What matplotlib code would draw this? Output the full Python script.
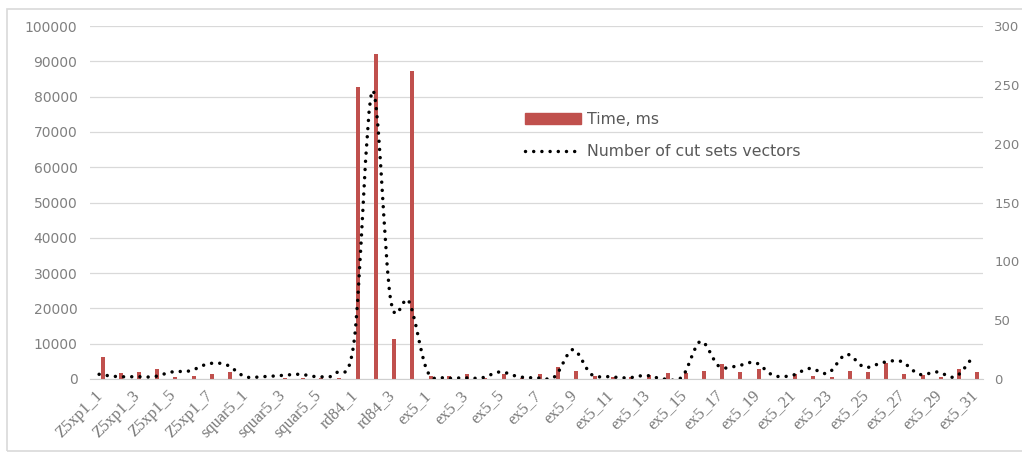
import matplotlib.pyplot as plt
import numpy as np
from matplotlib.path import Path
from matplotlib.patches import PathPatch, Rectangle
from matplotlib.lines import Line2D
from matplotlib.transforms import ScaledTranslation

names = (["Z5xp1_%d" % i for i in range(1, 9)]
         + ["squar5_%d" % i for i in range(1, 7)]
         + ["rd84_%d" % i for i in range(1, 5)]
         + ["ex5_%d" % i for i in range(1, 32)])

time_ms = [6100, 1600, 1900, 2900, 600, 850, 1300, 1900,
           80, 60, 400, 300, 300, 350,
           82600, 92000, 11200, 87200,
           800, 950, 1300, 150, 1300, 300, 1300, 3500, 2200, 950,
           650, 500, 1100, 1600, 1700, 2350, 4200, 1850, 2900, 100,
           1400, 950, 450, 2300, 1850, 4450, 1350, 1000, 550, 2900, 1850]

cut_sets = [4, 2, 2, 2, 6, 7, 13, 12,
            2, 2, 3, 4, 2, 5,
            33, 245, 67, 66,
            7, 1, 1, 1, 6, 2, 1, 2, 25, 4,
            2, 1, 3, 0, 2, 32, 11, 11, 14, 3,
            3, 9, 5, 21, 10, 14, 15, 4, 6, 2, 20]

W, H = 1022, 454
fig = plt.figure(figsize=(W/100, H/100), dpi=100)
ax = fig.add_axes([90/W, 1-379/H, 893/W, 353/H])
ax2 = ax.twinx()

x = np.arange(len(names))
ax.bar(x + 0.19, time_ms, width=0.22, color="#C0504D", zorder=2, label="Time, ms")
ax.set_xlim(-0.5, len(names) - 0.5)
ax.set_ylim(0, 100000)
ax.set_yticks(np.arange(0, 100001, 10000))
ax.grid(axis="y", color="#d9d9d9", lw=0.9, zorder=0)
ax.set_axisbelow(True)
for s in ["top", "right", "left"]:
    ax.spines[s].set_visible(False)
ax.spines["bottom"].set_color("#cfcfcf")
ax.tick_params(axis="y", length=0, pad=9, labelsize=10, labelcolor="#808080")
ax.tick_params(axis="x", length=0, pad=6)
ax.set_xticks(x[::2])
ax.set_xticklabels(names[::2], rotation=45, ha="right", va="top",
                   rotation_mode="anchor", family="Liberation Serif",
                   fontsize=11.8, color="#787878")
shift = ScaledTranslation(-4/100, 0, fig.dpi_scale_trans)
for lbl in ax.get_xticklabels():
    lbl.set_transform(lbl.get_transform() + shift)

# smoothed line (Excel style bezier through the points)
pts = np.column_stack([x, cut_sets]).astype(float)
n = len(pts)
verts = [pts[0]]
codes = [Path.MOVETO]
for i in range(n - 1):
    p0 = pts[max(i - 1, 0)]
    p1 = pts[i]
    p2 = pts[i + 1]
    p3 = pts[min(i + 2, n - 1)]
    verts += [p1 + (p2 - p0) / 6, p2 - (p3 - p1) / 6, p2]
    codes += [Path.CURVE4] * 3
lw = 2.5
patch = PathPatch(Path(verts, codes), fill=False, edgecolor="black", lw=lw,
                  linestyle=(0, (0.01, 2.35)), capstyle="round", zorder=3)
ax2.add_patch(patch)
ax2.set_ylim(0, 300)
ax2.set_yticks(np.arange(0, 301, 50))
for s in ax2.spines.values():
    s.set_visible(False)
ax2.tick_params(axis="y", length=0, pad=8, labelsize=9.5, labelcolor="#808080")

h1 = Rectangle((0, 0), 1, 1, color="#C0504D")
h2 = Line2D([], [], color="black", lw=lw, linestyle=(0, (0.01, 2.35)),
            dash_capstyle="round")
fig.legend([h1, h2], ["Time, ms", "Number of cut sets vectors"],
           loc="upper left", bbox_to_anchor=(517/W, 1-104/H), frameon=False,
           borderpad=0, handlelength=3.55, handletextpad=0.4, labelspacing=1.1,
           prop=dict(size=11.3), labelcolor="#595959")

fig.add_artist(Rectangle((7/W, 1-451/H), 1.2, 442/H, transform=fig.transFigure,
                         fill=False, edgecolor="#d9d9d9", lw=1.2))

fig.savefig("out.png", dpi=100)
